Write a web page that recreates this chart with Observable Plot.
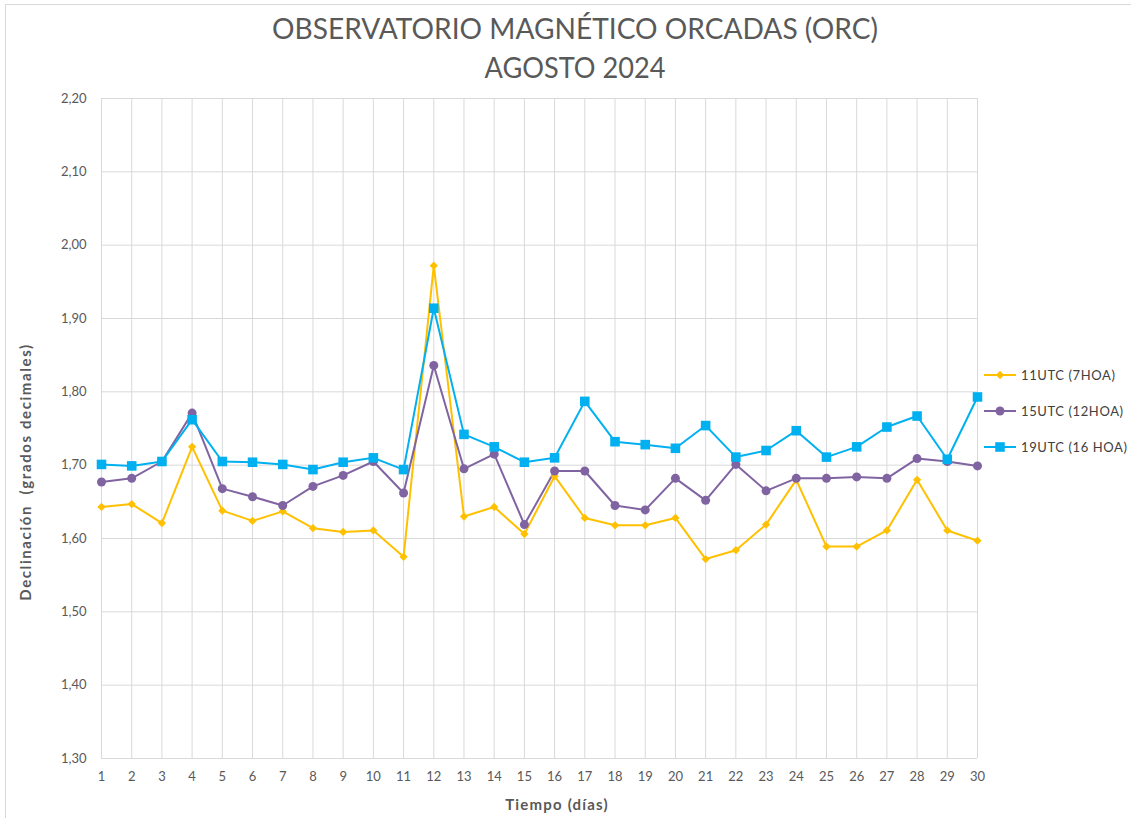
<!DOCTYPE html>
<html><head><meta charset="utf-8">
<script src="https://cdn.jsdelivr.net/npm/d3@7"></script>
<script src="https://cdn.jsdelivr.net/npm/@observablehq/plot@0.6"></script>
<style>
body{margin:0;background:#fff;}
#wrap{position:relative;width:1131px;height:818px;overflow:hidden;font-family:Lato,"Open Sans",sans-serif;}
#border{position:absolute;left:5px;top:4px;width:1140px;height:830px;border:1px solid #d9d9d9;box-sizing:border-box;}
#titles{position:absolute;left:0;top:0;}
#chart{position:absolute;left:0;top:90px;}
.axlab{position:absolute;font-weight:bold;font-size:15px;color:#595959;white-space:nowrap;}
.leg{position:absolute;left:984px;height:16px;display:flex;align-items:center;font-size:13px;color:#404040;letter-spacing:0.6px;white-space:nowrap;}
.leg svg{margin-right:5px;}
</style></head>
<body>
<div id="wrap">
  <div id="border"></div>
  <svg id="titles" width="1131" height="90">
    <text x="575" y="39" text-anchor="middle" font-family="Lato, sans-serif" font-size="28" fill="#595959" textLength="606" lengthAdjust="spacingAndGlyphs">OBSERVATORIO MAGNÉTICO ORCADAS (ORC)</text>
    <text x="575" y="78" text-anchor="middle" font-family="Lato, sans-serif" font-size="28" fill="#595959" textLength="181" lengthAdjust="spacingAndGlyphs">AGOSTO 2024</text>
  </svg>
  <div id="chart"></div>
  <div class="axlab" style="left:25px;top:472px;letter-spacing:1.6px;transform:translate(-50%,-50%) rotate(-90deg);">Declinación&nbsp; (grados decimales)</div>
  <div class="axlab" style="left:557px;top:804px;letter-spacing:1.2px;transform:translate(-50%,-50%);">Tiempo (días)</div>
  <div id="legend"></div>
</div>
<script>
const days = [1,2,3,4,5,6,7,8,9,10,11,12,13,14,15,16,17,18,19,20,21,22,23,24,25,26,27,28,29,30];
const utc11 = [1.643,1.647,1.621,1.725,1.638,1.624,1.637,1.614,1.609,1.611,1.575,1.972,1.630,1.643,1.606,1.685,1.628,1.618,1.618,1.628,1.572,1.584,1.619,1.680,1.589,1.589,1.611,1.680,1.611,1.597];
const utc15 = [1.677,1.682,1.705,1.771,1.668,1.657,1.645,1.671,1.686,1.705,1.662,1.836,1.695,1.715,1.619,1.692,1.692,1.645,1.639,1.682,1.652,1.701,1.665,1.682,1.682,1.684,1.682,1.709,1.705,1.699];
const utc19 = [1.701,1.699,1.705,1.762,1.705,1.704,1.701,1.694,1.704,1.710,1.694,1.914,1.742,1.725,1.704,1.710,1.787,1.732,1.728,1.723,1.754,1.711,1.720,1.747,1.711,1.725,1.752,1.767,1.708,1.793];
const seriesNames = ["11UTC (7HOA)","15UTC (12HOA)","19UTC (16 HOA)"];
const seriesColors = ["#FFC000","#8064A2","#00B0F0"];
const yTicks = [1.30,1.40,1.50,1.60,1.70,1.80,1.90,2.00,2.10,2.20];

const diamond = {draw(ctx, size){const s=Math.sqrt(size/2);ctx.moveTo(0,-s);ctx.lineTo(s,0);ctx.lineTo(0,s);ctx.lineTo(-s,0);ctx.closePath();}};
const symbols = [diamond, "circle", "square"];
const radii = [3.3, 4.5, 5.4];
const allSeries = [utc11, utc15, utc19];

const rows = s => days.map((d,i)=>({day:d, v:allSeries[s][i]}));

const marks = [
  Plot.gridX(days, {stroke:"#d9d9d9", strokeOpacity:1, strokeWidth:1}),
  Plot.gridY(yTicks, {stroke:"#d9d9d9", strokeOpacity:1, strokeWidth:1}),
  Plot.axisX(days, {tickSize:0, tickPadding:13, fontSize:13, fill:"#595959", letterSpacing:0.5, label:null, tickFormat:d=>String(d)}),
  Plot.axisY(yTicks, {tickSize:0, tickPadding:15, fontSize:13, fill:"#595959", letterSpacing:0.8, label:null, tickFormat:d=>d.toFixed(2).replace(".",",")})
];
for (let s=0;s<3;s++){
  marks.push(Plot.line(rows(s), {x:"day", y:"v", stroke:seriesColors[s], strokeWidth:2}));
}
for (let s=0;s<3;s++){
  marks.push(Plot.dot(rows(s), {x:"day", y:"v", fill:seriesColors[s], stroke:"none", symbol:symbols[s], r:radii[s]}));
}

const chart = Plot.plot({
  width:1131, height:728,
  marginLeft:101, marginRight:154, marginTop:8, marginBottom:60,
  style:{fontFamily:"Lato, 'Open Sans', sans-serif", background:"transparent", overflow:"visible"},
  x:{domain:[1,30]},
  y:{domain:[1.3,2.2]},
  marks
});
document.getElementById("chart").appendChild(chart);

const legend = document.getElementById("legend");
const legTops = [367, 403, 439];
seriesNames.forEach((name,s)=>{
  const div = document.createElement("div");
  div.className = "leg";
  div.style.top = legTops[s] + "px";
  const sym = d3.symbol().type(s===0?diamond:(s===1?d3.symbolCircle:d3.symbolSquare)).size(Math.PI*radii[s]*radii[s]);
  div.innerHTML = `<svg width="32" height="16"><line x1="0" x2="32" y1="8" y2="8" stroke="${seriesColors[s]}" stroke-width="2"/><path transform="translate(16,8)" d="${sym()}" fill="${seriesColors[s]}"/></svg><span>${name}</span>`;
  legend.appendChild(div);
});
</script>
</body></html>
